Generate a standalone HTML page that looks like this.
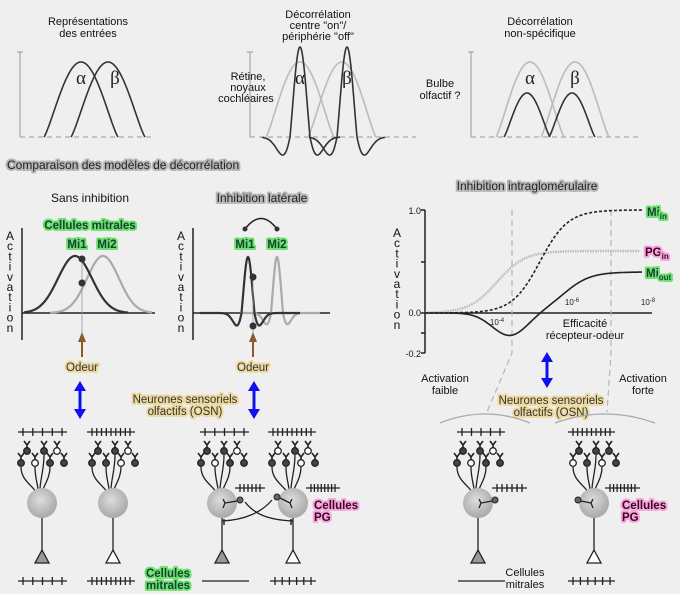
<!DOCTYPE html>
<html><head><meta charset="utf-8">
<style>
html,body{margin:0;padding:0;background:#efefef;}
svg{display:block;font-family:"Liberation Sans",sans-serif;}
</style></head>
<body>
<svg id="s" width="680" height="594" viewBox="0 0 680 594" xmlns="http://www.w3.org/2000/svg">
<rect width="680" height="594" fill="#efefef"/>
<g font-size="11" fill="#111" text-anchor="middle">
<text x="88" y="25">Représentations</text><text x="88" y="37">des entrées</text>
<text x="318" y="18">Décorrélation</text><text x="318" y="29">centre "on"/</text><text x="318" y="40">périphérie "off"</text>
<text x="540" y="25">Décorrélation</text><text x="540" y="37">non-spécifique</text>
<text x="248" y="80">Rétine,</text><text x="248" y="91">noyaux</text><text x="246" y="102">cochléaires</text>
<text x="440" y="87">Bulbe</text><text x="440" y="99">olfactif ?</text>
</g>
<g font-family="Liberation Serif,serif" font-size="19" fill="#222" text-anchor="middle">
<text x="81" y="84">α</text><text x="115" y="84">β</text>
<text x="300" y="84">α</text><text x="347" y="84">β</text>
<text x="530" y="84">α</text><text x="575" y="84">β</text>
</g>
<g stroke="#999" stroke-width="1" fill="none">
<path d="M20 52V137M17 52H23M471 52V137M468 52H474M250 52V137M247 52H253"/>
<path d="M20 137H152M250 137H416M471 137H642" stroke-dasharray="5,4"/>
</g>
<g font-size="12" stroke-linejoin="round" paint-order="stroke">
<text x="7" y="169" fill="#222" stroke="#b5b5b5" stroke-width="4">Comparaison des modèles de décorrélation</text>
<text x="90" y="202" text-anchor="middle" fill="#111">Sans inhibition</text>
<text x="262" y="202" text-anchor="middle" fill="#222" stroke="#b8b8b8" stroke-width="4">Inhibition latérale</text>
<text x="527" y="190" text-anchor="middle" fill="#222" stroke="#b8b8b8" stroke-width="4">Inhibition intraglomérulaire</text>
</g>
<g font-size="11.5" font-weight="bold" stroke-linejoin="round" paint-order="stroke" text-anchor="middle">
<g fill="#143" stroke="#6fe06f" stroke-width="4">
<text x="90" y="229">Cellules mitrales</text>
<text x="77" y="248">Mi1</text><text x="107" y="248">Mi2</text>
<text x="245" y="248">Mi1</text><text x="277" y="248">Mi2</text>
<text x="168" y="577">Cellules</text><text x="168" y="589">mitrales</text>
</g>
<g fill="#333" stroke="#ecd9a0" stroke-width="4" font-weight="normal">
<text x="82" y="371">Odeur</text><text x="253" y="371">Odeur</text>
<text x="185" y="403">Neurones sensoriels</text><text x="185" y="415">olfactifs (OSN)</text>
<text x="551" y="404">Neurones sensoriels</text><text x="551" y="416">olfactifs (OSN)</text>
</g>
<g fill="#402" stroke="#f2a8dc" stroke-width="4" text-anchor="start">
<text x="314" y="509">Cellules</text><text x="314" y="521">PG</text>
<text x="622" y="509">Cellules</text><text x="622" y="521">PG</text>
</g>
</g>
<g font-size="12" fill="#111" text-anchor="middle" id="vt"></g>
<g font-size="11" fill="#111" text-anchor="middle">
<text x="445" y="382">Activation</text><text x="445" y="394">faible</text>
<text x="643" y="382">Activation</text><text x="643" y="394">forte</text>
<text x="585" y="327">Efficacité</text><text x="585" y="339">récepteur-odeur</text>
<text x="525" y="576">Cellules</text><text x="525" y="588">mitrales</text>
</g>
<g font-size="9" fill="#111" text-anchor="end">
<text x="421" y="214">1.0</text><text x="421" y="316">0.0</text><text x="421" y="357">-0.2</text>
</g>
<g font-size="8" fill="#222" text-anchor="middle">
<text x="497" y="325">10<tspan dy="-3" font-size="6">-4</tspan></text>
<text x="572" y="305">10<tspan dy="-3" font-size="6">-6</tspan></text>
<text x="648" y="305">10<tspan dy="-3" font-size="6">-8</tspan></text>
</g>
<g font-size="11.5" font-weight="bold" stroke-linejoin="round" paint-order="stroke">
<text x="647" y="216" fill="#143" stroke="#6fe06f" stroke-width="4">Mi<tspan font-size="8" dy="3">in</tspan></text>
<text x="645" y="256" fill="#402" stroke="#f2a8dc" stroke-width="4">PG<tspan font-size="8" dy="3">in</tspan></text>
<text x="646" y="277" fill="#143" stroke="#6fe06f" stroke-width="4">Mi<tspan font-size="8" dy="3">out</tspan></text>
</g>
<g id="g"></g>
</svg>
<script>
var NS="http://www.w3.org/2000/svg",G=document.getElementById('g');
function el(t,a,p){var e=document.createElementNS(NS,t);for(var k in a)e.setAttribute(k,a[k]);(p||G).appendChild(e);return e;}
function path(d,st,w,extra){var a={d:d,fill:'none',stroke:st,'stroke-width':w};for(var k in extra)a[k]=extra[k];return el('path',a);}
function fn(f,x0,x1){var d='';for(var x=x0;x<=x1;x+=0.5){d+=(d?'L':'M')+x.toFixed(1)+' '+f(x).toFixed(1);}return d;}
function bell(c,hw,base,peak){return function(x){var t=(x-c)/hw;if(Math.abs(t)>=1)return base;var v=Math.pow(0.5+0.5*Math.cos(Math.PI*t),0.6);return base-(base-peak)*v;};}
function mex(c,s,base,h,neg){return function(x){var t=(x-c)/s;var v=(1-t*t)*Math.exp(-t*t/2);if(v<0)v*=neg;return base-h*v;};}
path(fn(bell(81,37,137,62),44,118),'#333',1.6);
path(fn(bell(108,37,137,62),71,145),'#333',1.6);
path(fn(bell(300,34,137,62),266,334),'#bbb',1.6);
path(fn(bell(342,34,137,62),308,376),'#bbb',1.6);
path(fn(mex(300,10,137,90,0.45),262,340),'#333',1.6);
path(fn(mex(347,10,137,90,0.45),309,385),'#333',1.6);
path(fn(bell(530,34,137,62),496,564),'#bbb',1.6);
path(fn(bell(575,34,137,62),541,609),'#bbb',1.6);
path(fn(bell(527,23,137,93),504,550),'#333',1.6);
path(fn(bell(572,23,137,93),549,595),'#333',1.6);
function gau(c,s,base,h){return function(x){var t=(x-c)/s;return base-h*Math.exp(-t*t/2);};}
path('M22 228V340M22 313H155','#222',1.5);
path(fn(gau(103,16,313,57),50,152),'#aaa',2.2);
path(fn(gau(75,17,313,57),24,128),'#333',2.2);
path('M82 259V340','#999',0.8);
el('circle',{cx:82,cy:259,r:3.5,fill:'#333'});el('circle',{cx:82,cy:283,r:3.5,fill:'#333'});
path('M193 228V340M193 313H330','#222',1.5);
path(fn(mex(277,6,313,56,0.45),240,320),'#aaa',2.2);
path(fn(mex(248,6.5,313,56,0.5),200,300),'#333',2.2);
path('M253 277V340','#999',0.8);
el('circle',{cx:253,cy:277,r:3.5,fill:'#333'});el('circle',{cx:253,cy:326,r:3.5,fill:'#333'});
path('M245 229Q261 208 277 229','#222',1.5);
el('circle',{cx:245,cy:229,r:2.5,fill:'#333'});el('circle',{cx:277,cy:229,r:2.5,fill:'#333'});
[82,253].forEach(function(x){path('M'+x+' 357V340','#8a5a2a',2);el('polygon',{points:(x-4)+',342 '+(x+4)+',342 '+x+',332',fill:'#8a5a2a'});});
function barrow(x,y0,y1){path('M'+x+' '+(y0+8)+'V'+(y1-8),'#1010ee',3);el('polygon',{points:(x-6)+','+(y0+10)+' '+(x+6)+','+(y0+10)+' '+x+','+y0,fill:'#1010ee'});el('polygon',{points:(x-6)+','+(y1-10)+' '+(x+6)+','+(y1-10)+' '+x+','+y1,fill:'#1010ee'});}
barrow(80,381,419);barrow(254,381,419);barrow(547,352,388);
var vt=document.getElementById('vt');
[[10,240],[181,240],[397,237]].forEach(function(p){'Activation'.split('').forEach(function(c,i){var t=el('text',{x:p[0],y:p[1]+i*10.2},vt);t.textContent=c;});});
path('M425 210V353M421 210H425M421 262H425M421 313H425M421 333H425M421 353H425','#222',1.5);
path('M425 313H652','#222',1.5);
path('M512 210V353L487 412M611 210V353L607 412','#b5b5b5',1.2,{'stroke-dasharray':'6,4'});
path(fn(function(x){return 313-62/(1+Math.exp(-(x-497)/14));},425,640),'#bbb',2.5,{'stroke-dasharray':'1.5,1'});
path(fn(function(x){return 313-103/(1+Math.exp(-(x-540)/14));},425,642),'#222',1.6,{'stroke-dasharray':'3,2'});
path(fn(function(x){return 313-41/(1+Math.exp(-(x-565)/13))+23*Math.exp(-Math.pow((x-510)/25,2));},425,642),'#222',1.6);
path('M440 423Q485 405 530 423','#aaa',1.3);path('M555 423Q605 405 655 423','#aaa',1.3);
function train(x0,x1,y,n){path('M'+x0+' '+y+'H'+x1,'#222',1.3);if(!n)return;var d='';for(var i=0;i<n;i++){var x=x0+5+i*(x1-x0-10)/(n-1);d+='M'+x.toFixed(1)+' '+(y-4)+'V'+(y+4);}path(d,'#222',1.3);}
train(18,67,432,5);train(87,135,432,9);train(200,249,432,5);train(268,316,432,9);
train(457,505,432,5);train(568,615,432,9);
train(18,67,581,5);train(87,135,581,9);path('M202 581H249','#222',1.3);train(270,316,581,6);
path('M458 581H505','#222',1.3);train(568,615,581,6);
train(235,265,488,6);train(306,340,488,8);train(492,527,488,6);train(605,640,488,8);
var defs=el('defs',{},document.getElementById('s'));
var rg=el('radialGradient',{id:'rg',cx:'0.45',cy:'0.4',r:'0.6'},defs);
el('stop',{offset:'0','stop-color':'#ddd'},rg);el('stop',{offset:'1','stop-color':'#a8a8a8'},rg);
function neuron(cx,tri,fills){
 var cy=503;
 var r1=[-15,2,15],r2=[-21,-7,8,22];
 var pts=[];
 r1.forEach(function(o,i){pts.push([cx+o,451,fills[i]]);});
 r2.forEach(function(o,i){pts.push([cx+o,463,fills[3+i]]);});
 path('M'+(cx-21)+' 467C'+(cx-21)+' 480 '+(cx-10)+' 485 '+(cx-6)+' 492','#222',1.3);
 path('M'+(cx+2)+' 455C'+(cx+2)+' 470 '+(cx-2)+' 480 '+(cx-2)+' 490','#222',1.3);
 path('M'+(cx+8)+' 467C'+(cx+8)+' 478 '+(cx+2)+' 485 '+(cx+1)+' 490','#222',1.3);
 path('M'+(cx-7)+' 467C'+(cx-7)+' 478 '+(cx-4)+' 485 '+(cx-4)+' 490','#222',1.3);
 pts.forEach(function(p){
  path('M'+(p[0]-3)+' '+(p[1]-10)+'L'+p[0]+' '+(p[1]-6)+'L'+(p[0]+3)+' '+(p[1]-10)+'M'+p[0]+' '+(p[1]-7)+'V'+(p[1]-3),'#222',1.6);
  el('circle',{cx:p[0],cy:p[1],r:3.3,fill:p[2]?'#fff':'#444',stroke:'#222','stroke-width':1.3});
 });
 el('circle',{cx:cx,cy:cy,r:15,fill:'url(#rg)'});
 path('M'+cx+' '+(cy+15)+'V552','#222',1.3);
 el('polygon',{points:(cx-7)+',563 '+(cx+7)+',563 '+cx+',550',fill:tri?'#999':'#fff',stroke:'#222','stroke-width':1.3});
}
neuron(42,1,[0,0,1,0,1,0,0]);neuron(113,0,[0,0,1,0,0,1,0]);
neuron(222,1,[0,0,1,0,1,0,0]);neuron(293,0,[1,0,1,0,0,1,0]);
neuron(478,1,[0,0,1,0,1,0,0]);neuron(594,0,[0,0,0,1,0,1,0]);
function pg(px,py,cx,dir){el('circle',{cx:px,cy:py,r:3,fill:'#666',stroke:'#222','stroke-width':1});
 path('M'+(px-dir*3)+' '+(py+1)+'L'+(cx+dir*3)+' 503M'+(cx+dir*3)+' 503L'+(cx+dir*1)+' 499M'+(cx+dir*3)+' 503L'+(cx+dir*1)+' 508','#222',1.3);}
pg(240,500,222,1);pg(277,497,293,-1);
pg(495,500,478,1);pg(578,500,594,-1);
path('M245 502C255 515 270 520 293 521','#222',1.3);
path('M272 500C262 512 245 520 222 521','#222',1.3);
path('M224 519V525M291 519V525','#222',1.5);
</script>
</body></html>
